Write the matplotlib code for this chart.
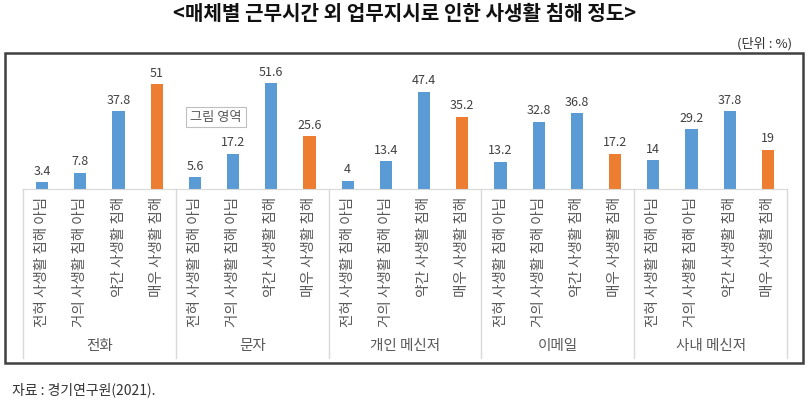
import matplotlib
matplotlib.use("Agg")
import matplotlib.pyplot as plt
import matplotlib.transforms as mtransforms
from matplotlib.patches import Rectangle

plt.rcParams['font.family'] = ['Noto Sans CJK KR', 'DejaVu Sans']

# data
groups = ['전화', '문자', '개인 메신저', '이메일', '사내 메신저']
levels = ['전혀 사생활 침해 아님', '거의 사생활 침해 아님', '약간 사생활 침해', '매우 사생활 침해']
phone = [3.4, 7.8, 37.8, 51]
text_msg = [5.6, 17.2, 51.6, 25.6]
messenger = [4, 13.4, 47.4, 35.2]
email = [13.2, 32.8, 36.8, 17.2]
work_messenger = [14, 29.2, 37.8, 19]
values = [phone, text_msg, messenger, email, work_messenger]

blue = '#5B9BD5'
orange = '#ED7D31'
W, H = 810, 403

fig = plt.figure(figsize=(W / 100, H / 100), dpi=100)

# axes: x 23..787 px, baseline y=189 px, top y=60 px
left, right, base, top = 23, 787, 189, 60
ax = fig.add_axes([left / W, 1 - base / H, (right - left) / W, (base - top) / H])
ppu = (189 - 83) / 51.6
ax.set_ylim(0, (base - top) / ppu)
ax.set_xlim(0, 4 * len(groups))

trans = mtransforms.blended_transform_factory(ax.transData, ax.transAxes)
ax_h = base - top

for g, vals in enumerate(values):
    for j, v in enumerate(vals):
        x = 4 * g + j + 0.5
        c = orange if j == 3 else blue
        ax.bar(x, v, width=0.32, color=c, zorder=2)
        ax.text(x, v + 4.5 / ppu, f'{v:g}', ha='center', va='bottom',
                fontsize=9, color='#404040')
        ax.text(x, -8 / ax_h, levels[j], transform=trans, rotation=90,
                ha='center', va='top', fontsize=10.5, color='#595959')
    ax.text(4 * g + 2, -(346 - base) / ax_h, groups[g], transform=trans,
            ha='center', va='center', fontsize=10.5, color='#595959')

# group separators
for g in range(len(groups) + 1):
    ax.plot([4 * g, 4 * g], [0, -(358 - base) / ax_h], transform=trans,
            color='#D9D9D9', lw=1, clip_on=False)

for s in ['top', 'left', 'right']:
    ax.spines[s].set_visible(False)
ax.spines['bottom'].set_color('#D9D9D9')
ax.set_xticks([])
ax.set_yticks([])

# outer border
fig.patches.append(Rectangle((5 / W, 1 - 363 / H), 798 / W, 310 / H,
                             transform=fig.transFigure, fill=False,
                             edgecolor='#404040', lw=1.8))

fig.text(0.5, 1 - 14 / H, '<매체별 근무시간 외 업무지시로 인한 사생활 침해 정도>',
         ha='center', va='center', fontsize=14.5, fontweight='bold', color='#111111')
fig.text(792 / W, 1 - 44 / H, '(단위 : %)', ha='right', va='center',
         fontsize=9.5, color='#333333')
fig.text(12 / W, 1 - 390 / H, '자료 : 경기연구원(2021).', ha='left', va='center',
         fontsize=10, color='#333333')

# "그림 영역" label box
fig.text(216 / W, 1 - 117 / H, '그림 영역', ha='center', va='center',
         fontsize=9.5, color='#595959',
         bbox=dict(boxstyle='square,pad=0.3', facecolor='white',
                   edgecolor='#BFBFBF', lw=0.8))

fig.savefig('out.png', dpi=100)
